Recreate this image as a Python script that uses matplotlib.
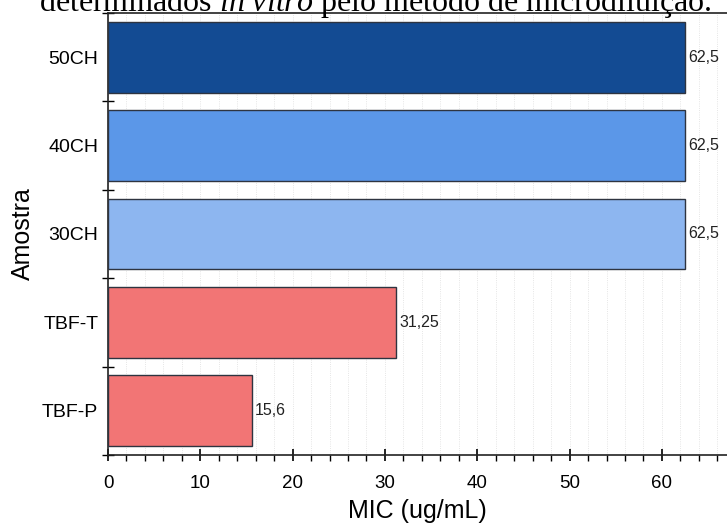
import matplotlib.pyplot as plt
from matplotlib.ticker import MultipleLocator

samples = ["TBF-P", "TBF-T", "30CH", "40CH", "50CH"]
mic = [15.6, 31.25, 62.5, 62.5, 62.5]
labels = ["15,6", "31,25", "62,5", "62,5", "62,5"]
colors = ["#f27575", "#f27575", "#8db6f0", "#5b97e8", "#134b93"]

plt.rcParams["font.family"] = ["Liberation Sans", "DejaVu Sans"]
plt.rcParams["mathtext.fontset"] = "custom"
plt.rcParams["mathtext.rm"] = "Liberation Serif"
plt.rcParams["mathtext.it"] = "Liberation Serif:italic"

fig = plt.figure(figsize=(7.27, 5.25), dpi=100)
ax = fig.add_axes([108 / 727, 70 / 525, 1 - 108 / 727, 442 / 525])

ypos = list(range(len(samples)))
ax.barh(ypos, mic, height=0.8, color=colors, edgecolor="#2e3440",
        linewidth=1.0, zorder=3)
for y, v, lab in zip(ypos, mic, labels):
    ax.text(v + 0.3, y, lab, va="center", ha="left", fontsize=11.5,
            color="#222222", zorder=4)

ax.set_xlim(0, 67.05)
ax.set_ylim(-0.5, len(samples) - 0.5)
ax.xaxis.set_major_locator(MultipleLocator(10))
ax.xaxis.set_minor_locator(MultipleLocator(2))
ax.set_yticks(ypos)
ax.set_yticklabels(samples)
ax.set_yticks([i - 0.5 for i in range(len(samples) + 1)], minor=True)

ax.tick_params(axis="x", which="major", direction="inout", length=9,
               width=1.2, labelsize=13.5, pad=10)
ax.tick_params(axis="x", which="minor", direction="out", length=4,
               width=1.0)
ax.tick_params(axis="y", which="major", length=0, labelsize=14, pad=7)
ax.tick_params(axis="y", which="minor", direction="inout", length=9,
               width=1.0)

ax.grid(axis="x", which="both", color="#dddddd", linestyle=":",
        linewidth=0.6, zorder=0)
for side in ["left", "bottom", "top"]:
    ax.spines[side].set_color("#222222")
    ax.spines[side].set_linewidth(1.2)
ax.spines["right"].set_visible(False)

ax.set_xlabel("MIC (ug/mL)", fontsize=18, labelpad=5)
ax.set_ylabel("Amostra", fontsize=18, labelpad=5)

fig.text(0.516, 1 - 11 / 525,
         r"determinados $\mathit{in\ vitro}$ pelo método de microdiluição.",
         family="Liberation Serif", fontsize=23, ha="center",
         va="baseline", color="black")

fig.savefig("out.png", dpi=100)
